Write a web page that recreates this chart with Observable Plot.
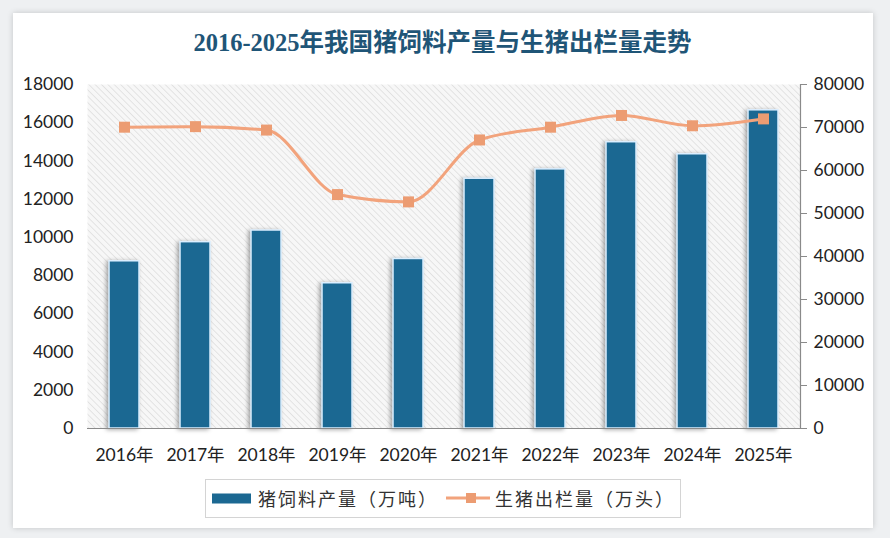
<!DOCTYPE html>
<html>
<head>
<meta charset="utf-8">
<script src="https://cdn.jsdelivr.net/npm/d3@7"></script>
<script src="https://cdn.jsdelivr.net/npm/@observablehq/plot@0.6"></script>
<style>
  html, body { margin: 0; padding: 0; background: #eef0f2; width: 890px; height: 538px; overflow: hidden; }
  #card { position: absolute; left: 13px; top: 13px; width: 860px; height: 515px; background: #fff; box-shadow: 0 0 6px rgba(0,0,0,0.18); }
  #title { position: absolute; left: 0; top: 27px; width: 885px; text-align: center; font-family: "Liberation Serif", "Noto Sans CJK SC", serif; font-weight: bold; font-size: 24.5px; color: #1f5577; line-height: 32px; }
  #chart { position: absolute; left: 0; top: 60px; }
  #legend { position: absolute; left: 205px; top: 479px; width: 474px; height: 37px; border: 1px solid #d4d4d4; background: #fff; font-family: "Noto Sans CJK SC", sans-serif; font-size: 18px; color: #333; letter-spacing: 2px; }
  #legend .item { position: absolute; top: 0; height: 37px; line-height: 37px; white-space: nowrap; }
  #legend svg { position: absolute; }
  g[aria-label="bar"] rect { filter: drop-shadow(-2px 1px 2px rgba(0,0,0,0.35)); }
</style>
</head>
<body>
<div id="card"></div>
<div id="title">2016-2025年我国猪饲料产量与生猪出栏量走势</div>
<div id="chart"></div>
<div id="legend">
  <svg style="left:6px;top:13px" width="40" height="11"><rect x="0" y="0.5" width="39" height="10" fill="#1b6892"></rect></svg>
  <div class="item" style="left:52px">猪饲料产量（万吨）</div>
  <svg style="left:238px;top:8px" width="50" height="20"><line x1="2" y1="10" x2="46" y2="10" stroke="#f2a37c" stroke-width="3"></line><rect x="22" y="5" width="10" height="10" fill="#ec9c72"></rect></svg>
  <div class="item" style="left:289px">生猪出栏量（万头）</div>
</div>
<script>
const years = ["2016年","2017年","2018年","2019年","2020年","2021年","2022年","2023年","2024年","2025年"];
const feed = [8750, 9750, 10360, 7600, 8870, 13070, 13560, 14980, 14350, 16650];
const hogs = [70070, 70200, 69400, 54400, 52700, 67100, 70070, 72800, 70400, 72000];
const leftTicks = [0, 2000, 4000, 6000, 8000, 10000, 12000, 14000, 16000, 18000];
const rightTicks = [0, 10000, 20000, 30000, 40000, 50000, 60000, 70000, 80000];
const leftMax = 18000, rightMax = 80000;
const k = leftMax / rightMax;

const data = years.map((y, i) => ({year: y, feed: feed[i], hogs: hogs[i]}));
const font = "Lato, 'Noto Sans CJK SC', sans-serif";

const chart = Plot.plot({
  width: 890,
  height: 410,
  marginLeft: 87,
  marginRight: 90,
  marginTop: 24,
  marginBottom: 42,
  style: {fontFamily: font, fontSize: "17px", color: "#222", background: "transparent", overflow: "visible"},
  x: {domain: years, paddingInner: 0.58, paddingOuter: 0.29, label: null},
  y: {domain: [0, leftMax], label: null},
  marks: [
    Plot.frame({fill: "url(#hatch)", stroke: null}),
    Plot.barY(data, {x: "year", y: "feed", fill: "#1b6892", stroke: "#dcefff", strokeWidth: 1.5}),
    Plot.ruleY([0], {stroke: "#8a8a8a", strokeWidth: 1.2}),
    Plot.frame({anchor: "right", stroke: "#8a8a8a", strokeWidth: 1.2}),
    Plot.axisX({tickSize: 0, tickPadding: 20, fontSize: 17.5, label: null}),
    Plot.axisY(leftTicks, {anchor: "left", tickSize: 0, tickPadding: 14, fontSize: 17.5, label: null, tickFormat: d => String(d)}),
    Plot.axisY(rightTicks.map(d => d * k), {anchor: "right", tickSize: 6, tickPadding: 7, fontSize: 17.5, label: null, stroke: "#8a8a8a", tickFormat: d => String(Math.round(d / k))}),
    Plot.lineY(data, {x: "year", y: d => d.hogs * k, stroke: "#f2a37c", strokeWidth: 3, curve: "monotone-x"}),
    Plot.dot(data, {x: "year", y: d => d.hogs * k, symbol: "square", r: 6.2, fill: "#ec9c72", stroke: null})
  ]
});

const svg = d3.select(chart);
const defs = svg.insert("defs", ":first-child");
const pat = defs.append("pattern")
  .attr("id", "hatch")
  .attr("patternUnits", "userSpaceOnUse")
  .attr("width", 4.5).attr("height", 4.5)
  .attr("patternTransform", "rotate(-45)");
pat.append("rect").attr("width", 4.5).attr("height", 4.5).attr("fill", "#f7f7f7");
pat.append("line").attr("x1", 0).attr("y1", 0).attr("x2", 0).attr("y2", 4.5)
  .attr("stroke", "#d6d6d6").attr("stroke-width", 1.2);

document.getElementById("chart").appendChild(chart);
</script>
</body>
</html>
